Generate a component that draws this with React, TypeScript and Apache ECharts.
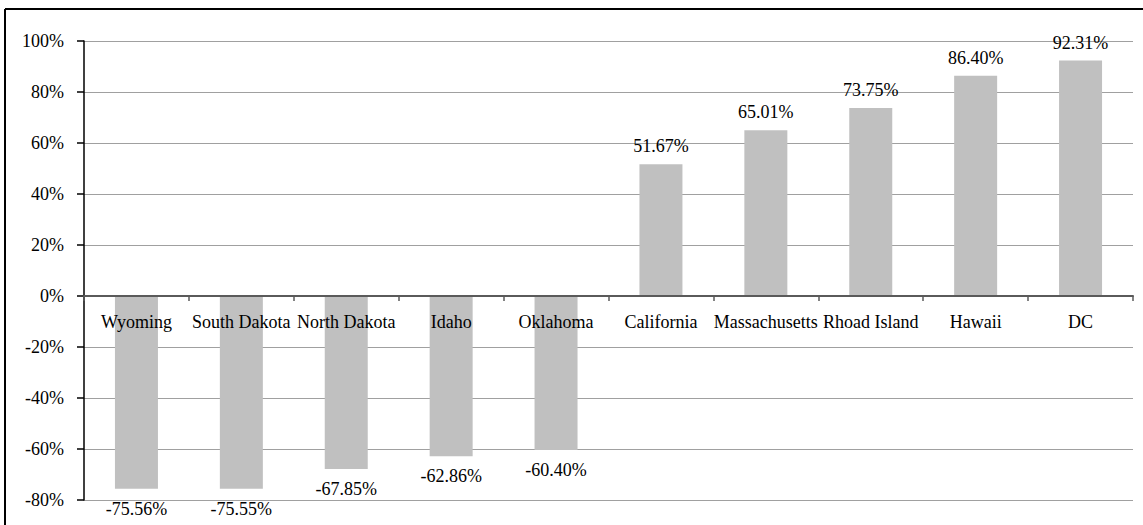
import React, { useEffect, useRef } from "react";
import * as echarts from "echarts";

const categories = [
  "Wyoming",
  "South Dakota",
  "North Dakota",
  "Idaho",
  "Oklahoma",
  "California",
  "Massachusetts",
  "Rhoad Island",
  "Hawaii",
  "DC",
];
const values = [-75.56, -75.55, -67.85, -62.86, -60.4, 51.67, 65.01, 73.75, 86.4, 92.31];
const yMin = -80;
const yMax = 100;
const yInterval = 20;

const FONT = "Liberation Serif";
const FS = 18;
const GRID_TOP = 41;
const GRID_BOTTOM = 25;
const HEIGHT = 525;

export default function App() {
  const ref = useRef<HTMLDivElement>(null);
  useEffect(() => {
    if (!ref.current) return;
    const chart = echarts.init(ref.current, undefined, { renderer: "svg" });
    const gridH = HEIGHT - GRID_TOP - GRID_BOTTOM;
    const zeroOffset = -((0 - yMin) / (yMax - yMin)) * gridH;
    chart.setOption({
      animation: false,
      backgroundColor: "#ffffff",
      textStyle: { fontFamily: FONT },
      grid: { left: 84, right: 10, top: GRID_TOP, bottom: GRID_BOTTOM, containLabel: false },
      graphic: [
        {
          type: "line",
          shape: { x1: 5, y1: 9, x2: 1143, y2: 9 },
          style: { stroke: "#000", lineWidth: 2 },
        },
        {
          type: "line",
          shape: { x1: 5, y1: 9, x2: 5, y2: 525 },
          style: { stroke: "#000", lineWidth: 2 },
        },
      ],
      xAxis: {
        type: "category",
        data: categories,
        z: 10,
        position: "bottom",
        offset: zeroOffset,
        axisLine: { onZero: false, lineStyle: { color: "#5a5a5a", width: 2 } },
        axisTick: { show: true, length: 5, lineStyle: { color: "#5a5a5a", width: 1.5 } },
        axisLabel: {
          interval: 0,
          margin: 17,
          color: "#000",
          fontSize: FS,
          fontFamily: FONT,
        },
        splitLine: { show: false },
      },
      yAxis: {
        type: "value",
        min: yMin,
        max: yMax,
        interval: yInterval,
        axisLine: { show: true, onZero: false, lineStyle: { color: "#000", width: 1.5 } },
        axisTick: { show: true, length: 7, lineStyle: { color: "#000", width: 1.5 } },
        axisLabel: {
          margin: 20,
          color: "#000",
          fontSize: FS,
          fontFamily: FONT,
          formatter: "{value}%",
        },
        splitLine: { show: true, lineStyle: { color: "#a0a0a0", width: 1 } },
      },
      series: [
        {
          type: "bar",
          barWidth: 43,
          itemStyle: { color: "#c0c0c0" },
          data: values.map((v) => ({
            value: v,
            label: v >= 0 ? { position: "top", distance: 9 } : { position: "bottom", distance: 11 },
          })),
          label: {
            show: true,
            color: "#000",
            fontSize: FS,
            fontFamily: FONT,
            formatter: (p: any) => p.value.toFixed(2) + "%",
          },
        },
      ],
    });
    return () => chart.dispose();
  }, []);
  return (
    <div
      ref={ref}
      style={{ position: "fixed", left: 0, top: 0, width: 1143, height: 525 }}
    />
  );
}
